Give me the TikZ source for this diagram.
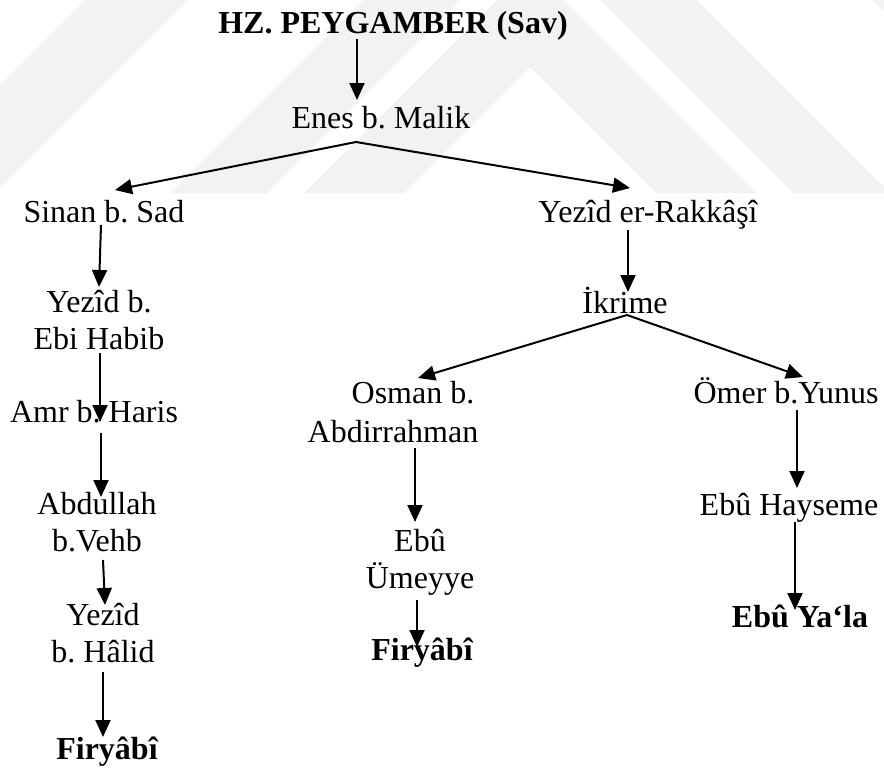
\documentclass[tikz,border=0pt]{standalone}
\usepackage{fontspec}
\setmainfont{Liberation Serif}
\usetikzlibrary{arrows.meta}
\frenchspacing
\tikzset{
  lbl/.style={inner sep=0pt, outer sep=0pt, anchor=base, align=center,
    font=\fontsize{32}{37}\selectfont\frenchspacing},
  lblb/.style={lbl, font=\fontsize{32}{37}\selectfont\frenchspacing\bfseries},
  arr/.style={line width=2pt, -{Triangle[length=17pt,width=15pt]}},
  wmark/.style={fill=black!5, draw=none}
}
\begin{document}
\begin{tikzpicture}[x=1pt, y=-1pt]
\useasboundingbox (0,0) rectangle (884,769);
% faint watermark
\begin{scope}
\clip (0,0) rectangle (884,193);
\fill[wmark] (530,-33) -- (304,193) -- (404,193) -- (530,67) -- (656,193) -- (756,193) -- cycle;
\fill[wmark] (530,-167) -- (170,193) -- (267,193) -- (530,-70) -- (793,193) -- (890,193) -- cycle;
\fill[wmark] (530,-445) -- (-108,193) -- (-5,193) -- (530,-342) -- (1065,193) -- (1168,193) -- cycle;
\end{scope}

% nodes (anchor = baseline of the last line)
\node[lblb] (hz) at (393,33) {HZ. PEYGAMBER (Sav)};
\node[lbl] (enes) at (381,128) {Enes b. Malik};
\node[lbl] (sinan) at (104,222) {Sinan b. Sad};
\node[lbl] (yezidr) at (648,222) {Yezîd er-Rakkâşî};
\node[lbl] (yezidb) at (99,349) {Yezîd b.\\Ebi Habib};
\node[lbl] (amr) at (94,422) {Amr b. Haris};
\node[lbl] (abd) at (97,551) {Abdullah\\b.Vehb};
\node[lbl] (yezidh) at (103,662) {Yezîd\\b. Hâlid};
\node[lblb] (firyabiA) at (107,759) {Firyâbî};
\node[lbl] (ikrime) at (625,313) {İkrime};
\node[lbl, font=\fontsize{32}{39}\selectfont\frenchspacing] (osman) at (393,442) {\hspace*{40pt}Osman b.\\Abdirrahman};
\node[lbl] (ebuu) at (420,588) {Ebû\\Ümeyye};
\node[lblb] (firyabiB) at (422,660) {Firyâbî};
\node[lbl] (omer) at (786,403) {Ömer b.Yunus};
\node[lbl] (hayseme) at (789,515) {Ebû Hayseme};
\node[lblb] (yala) at (800,627) {Ebû Ya‘la};

% connectors
\draw[arr] ([shift={(-36,6)}]hz.base) -- ([shift={(-24,-28)}]enes.base);
\coordinate (enesfoot) at ([shift={(-25,14)}]enes.base);
\draw[arr] (enesfoot) -- ([shift={(11,-32)}]sinan.base);
\draw[arr] (enesfoot) -- ([shift={(-18,-34)}]yezidr.base);
\draw[arr] ([shift={(-3,3)}]sinan.base) -- ([shift={(0,-62)}]yezidb.base);
\draw[arr] ([shift={(1,4)}]yezidb.base) -- ([shift={(6,0)}]amr.base);
\draw[arr] ([shift={(7,11)}]amr.base) -- ([shift={(4,-54)}]abd.base);
\draw[arr] ([shift={(6,9)}]abd.base) -- ([shift={(2,-57)}]yezidh.base);
\draw[arr] ([shift={(0,10)}]yezidh.base) -- ([shift={(-4,-22)}]firyabiA.base);
\draw[arr] ([shift={(-20,8)}]yezidr.base) -- ([shift={(3,-21)}]ikrime.base);
\coordinate (ikfoot) at ([shift={(2,2)}]ikrime.base);
\draw[arr] (ikfoot) -- ([shift={(25,-64)}]osman.base);
\draw[arr] (ikfoot) -- ([shift={(17,-26)}]omer.base);
\draw[arr] ([shift={(22,6)}]osman.base) -- ([shift={(-5,-66)}]ebuu.base);
\draw[arr] ([shift={(-3,12)}]ebuu.base) -- ([shift={(-5,-13)}]firyabiB.base);
\draw[arr] ([shift={(11,7)}]omer.base) -- ([shift={(8,-27)}]hayseme.base);
\draw[arr] ([shift={(6,7)}]hayseme.base) -- ([shift={(-5,-17)}]yala.base);
\end{tikzpicture}
\end{document}
